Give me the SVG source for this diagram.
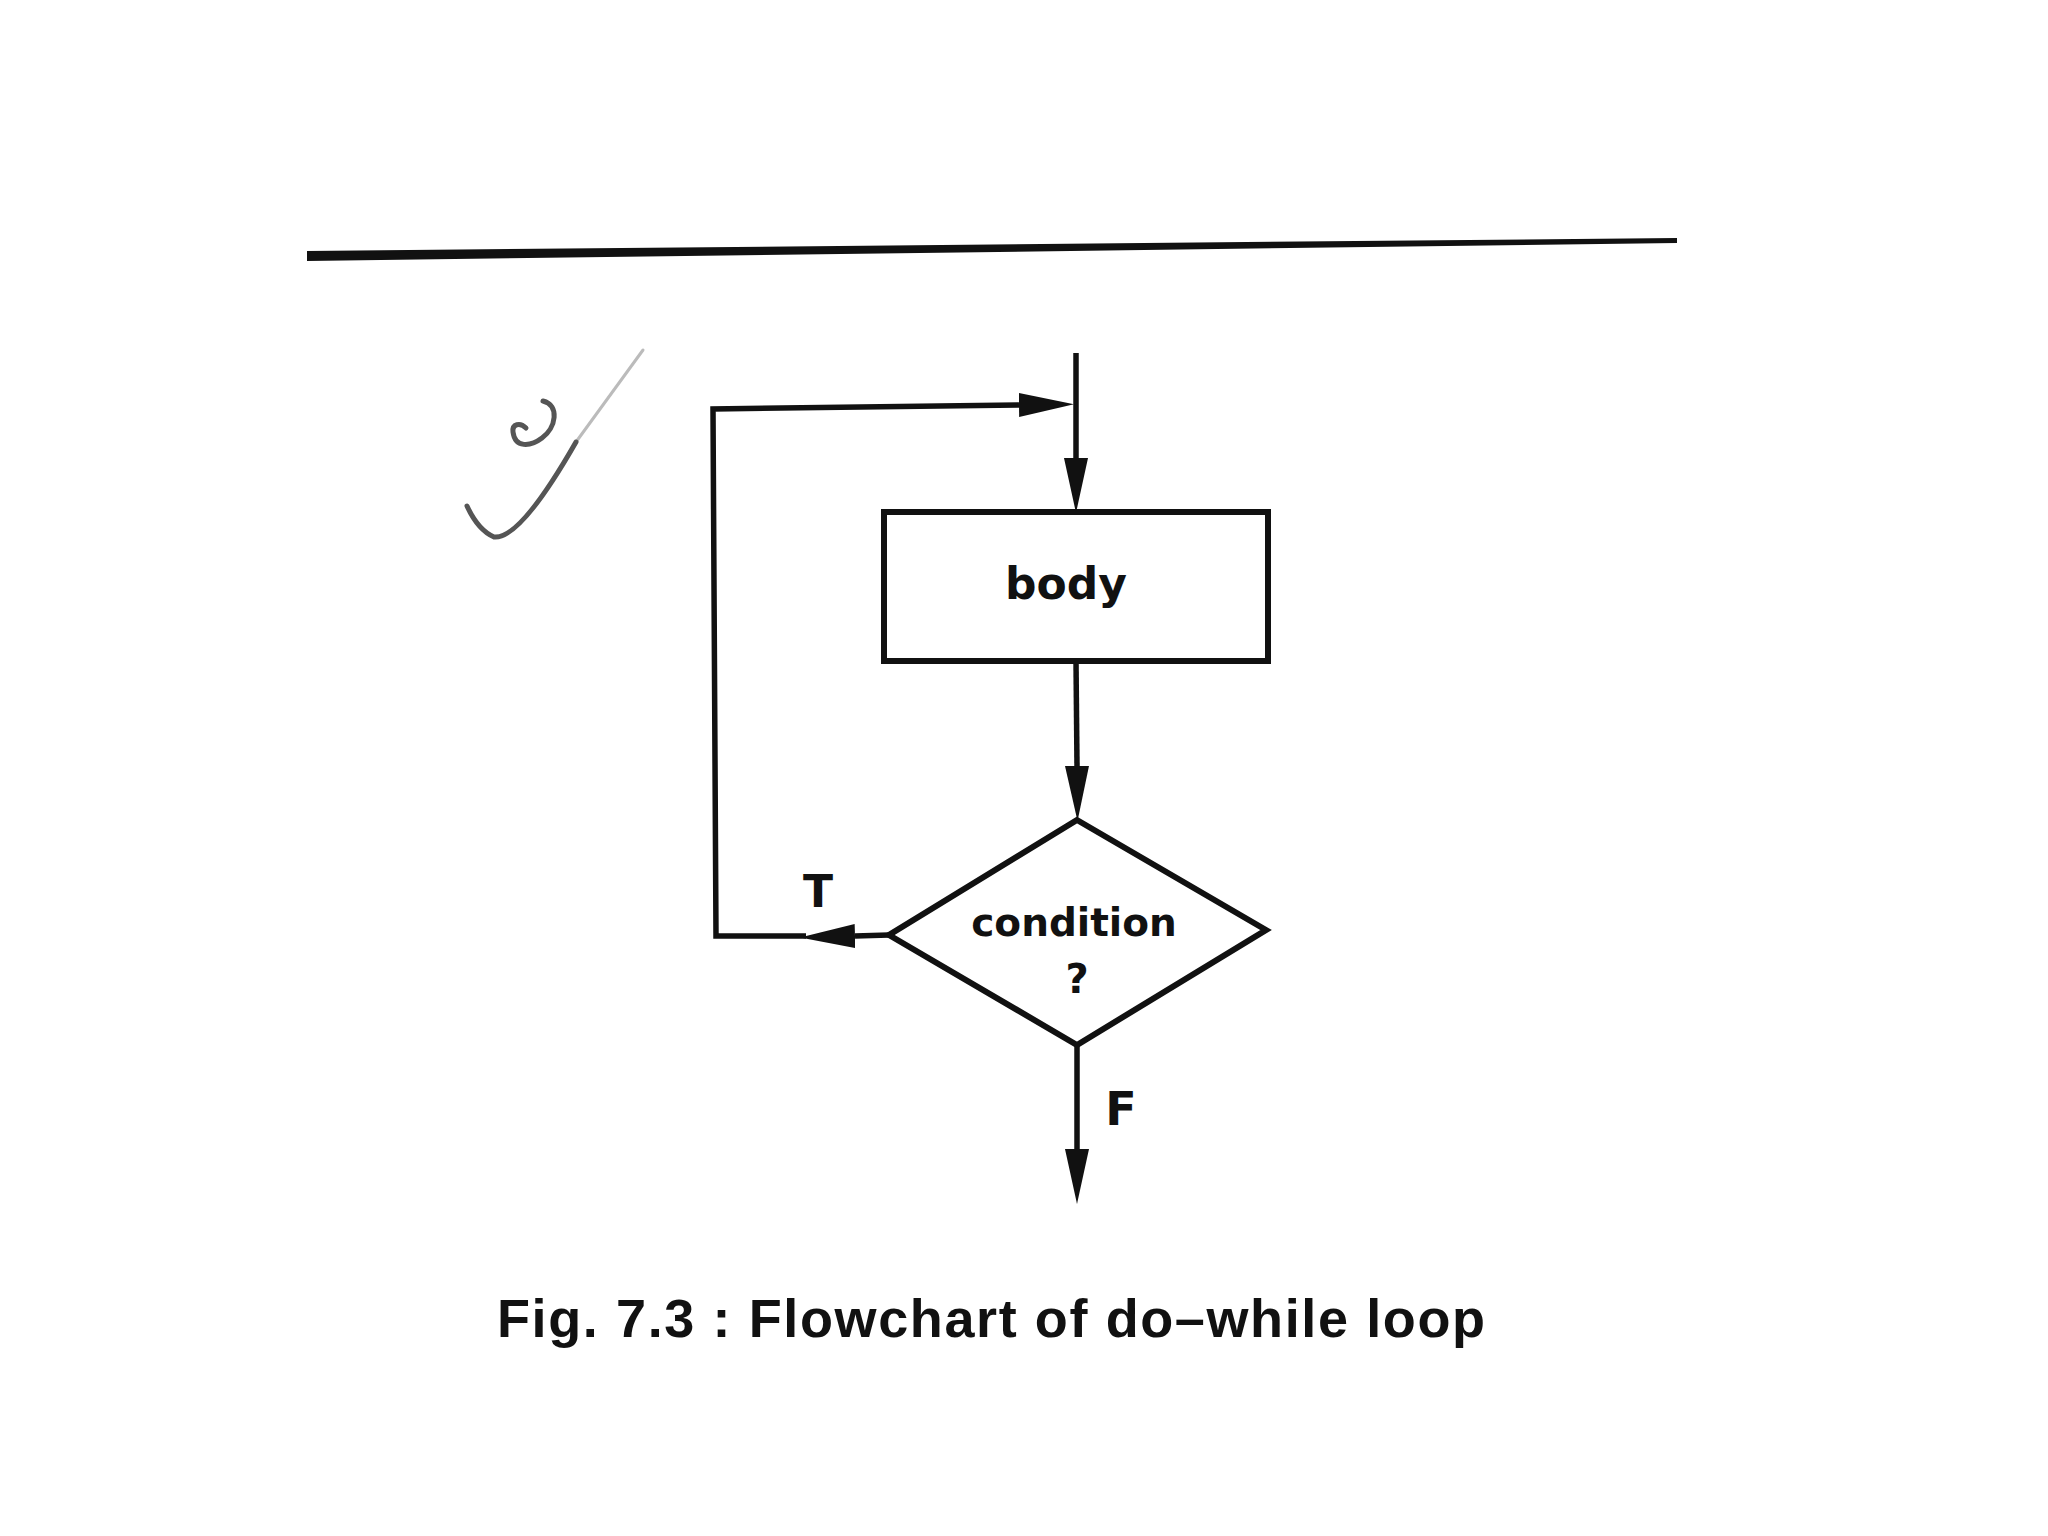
<svg xmlns="http://www.w3.org/2000/svg" width="2048" height="1536" viewBox="0 0 2048 1536">
<style>
.ln{fill:none;stroke:#111;stroke-width:5.5;stroke-linejoin:miter}
.shape{fill:#fff;stroke:#111;stroke-width:6}
.lbl{font-family:"DejaVu Sans","Noto Sans",sans-serif;font-weight:bold;fill:#111;text-anchor:middle}
.cap{font-family:"Liberation Sans",Arial,sans-serif;font-weight:bold;fill:#111}
.pen{fill:none;stroke:#555;stroke-linecap:round}
</style>
<defs>
<marker id="arr" markerUnits="userSpaceOnUse" markerWidth="56" markerHeight="26" refX="0" refY="12" orient="auto" viewBox="0 0 56 24">
<path d="M0,0 L55,12 L0,24 z" fill="#111"/>
</marker>
</defs>
<rect width="2048" height="1536" fill="#fff"/>
<polygon points="307,251 1677,238 1677,243 307,261" fill="#111"/>
<g id="checkmark">
<path class="pen" stroke-width="5" d="M467,506 Q478,530 494,537 Q520,540 576,442"/>
<path class="pen" stroke-width="3" opacity="0.4" d="M576,442 L643,350"/>
<path class="pen" stroke-width="5" d="M543,401 C560,405 556,428 542,438 C530,447 515,448 513,432 C512,424 520,422 526,428"/>
</g>
<g id="connectors">
<path class="ln" d="M1076,353 L1076,458" marker-end="url(#arr)"/>
<path class="ln" d="M1076,661 L1077,766" marker-end="url(#arr)"/>
<path class="ln" d="M889,935 L855,936" marker-end="url(#arr)"/>
<path class="ln" d="M806,936 L716,936 L713,409 L1019,405" marker-end="url(#arr)"/>
<path class="ln" d="M1077,1045 L1077,1149" marker-end="url(#arr)"/>
</g>
<g id="body">
<rect class="shape" x="884" y="512" width="384" height="149"/>
<text class="lbl" x="1066" y="599" font-size="44">body</text>
</g>
<g id="condition">
<polygon class="shape" points="1077,820 1266,930 1077,1045 889,935"/>
<text class="lbl" x="1074" y="936" font-size="39">condition</text>
<text class="lbl" x="1077" y="993" font-size="40">?</text>
</g>
<g id="labels">
<text class="lbl" x="818" y="907" font-size="44">T</text>
<text class="lbl" x="1121" y="1125" font-size="46">F</text>
</g>
<text class="cap" x="497" y="1337" font-size="54" textLength="988" lengthAdjust="spacing">Fig. 7.3 : Flowchart of do–while loop</text>
</svg>
